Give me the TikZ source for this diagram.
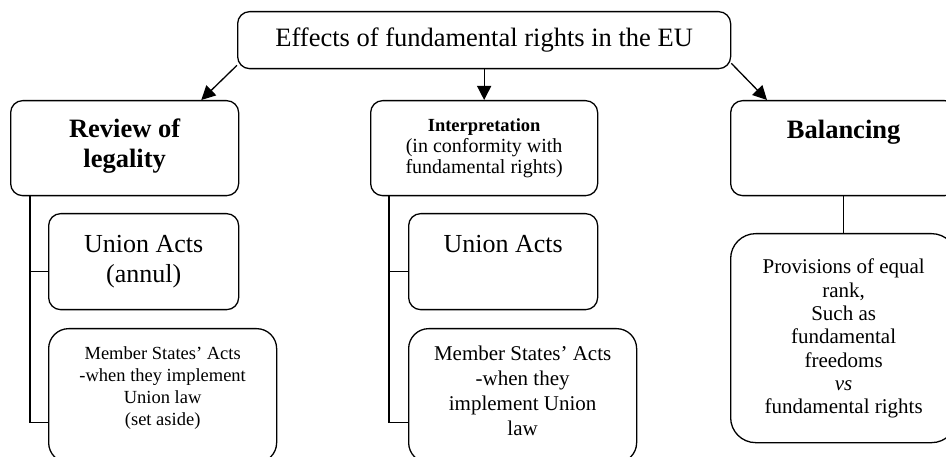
\documentclass[tikz,border=0pt]{standalone}
\usepackage{fontspec}
\setmainfont{Liberation Serif}
\usetikzlibrary{positioning}
\usetikzlibrary{arrows.meta}

\newcommand{\headfont}{\fontsize{26.5pt}{30pt}\selectfont}
\newcommand{\actfont}{\fontsize{26pt}{30pt}\selectfont}
\newcommand{\smallact}{\fontsize{18.5pt}{22pt}\selectfont}
\newcommand{\midact}{\fontsize{21pt}{25pt}\selectfont}

\tikzset{
  rbox/.style={draw, rectangle, rounded corners=12pt, line width=1.3pt, inner sep=0pt, align=center, anchor=north west},
  lowbox/.style={rbox, rounded corners=20pt},
  arr/.style={-{Triangle[length=14pt,width=14pt]}, line width=1.3pt},
  tree/.style={line width=1.3pt}
}

\begin{document}
\begin{tikzpicture}[x=1pt,y=-1pt]
            \useasboundingbox (0,0) rectangle (946,457);
            \clip (0,0) rectangle (946,457);

            \node[rbox, minimum width=493pt, text height=35pt, text depth=22pt, font=\headfont] (effects) at (237,11) {Effects of fundamental rights in the EU};

            \node[rbox, minimum width=228pt, text height=67pt, text depth=28pt, font=\headfont\bfseries] (review) at (10,100) {Review of\\legality};
            \node[rbox, minimum width=227pt, text height=73pt, text depth=22pt, font=\fontsize{20pt}{21pt}\selectfont] (interp) at (370,100) {{\fontsize{18.5pt}{21pt}\selectfont\bfseries Interpretation}\\(in conformity with\\fundamental rights)};
            \node[rbox, minimum width=226pt, text height=38pt, text depth=57pt, font=\headfont\bfseries] (balance) at (730,100) {Balancing};

            \node[rbox, minimum width=190pt, text height=69pt, text depth=27pt, font=\actfont] (unionL) at (48,213) {Union Acts\\(annul)};
            \node[lowbox, minimum width=228pt, text height=97pt, text depth=37pt, font=\smallact] (memberL) at (48,328) {Member States’ Acts\\-when they implement\\Union law\\(set aside)};

            \node[rbox, minimum width=189pt, text height=39pt, text depth=57pt, font=\actfont] (unionM) at (408,213) {Union Acts};
            \node[lowbox, minimum width=228pt, text height=107pt, text depth=27pt, font=\midact] (memberM) at (408,328) {Member States’ Acts\\-when they\\implement Union\\law};

            \node[lowbox, rounded corners=25pt, minimum width=226pt, text height=180pt, text depth=29pt, font=\fontsize{21pt}{23.3pt}\selectfont] (provis) at (730,233) {Provisions of equal\\rank,\\Such as\\fundamental\\freedoms\\\textit{vs}\\fundamental rights};

            \draw[arr] ([yshift=4pt]effects.south west) -- ([xshift=-38pt]review.north east);
            \draw[arr] (effects.south) -- (interp.north);
            \draw[arr] ([yshift=6pt]effects.south east) -- ([xshift=37pt]balance.north west);

            % branches under each heading
            \draw[tree] ([xshift=20pt]review.south west) |- ([yshift=-10pt]unionL.west);
            \draw[tree] ([xshift=20pt]review.south west) |- ([yshift=-27pt]memberL.west);
            \draw[tree] ([xshift=19pt]interp.south west) |- ([yshift=-10pt]unionM.west);
            \draw[tree] ([xshift=19pt]interp.south west) |- ([yshift=-27pt]memberM.west);
            \draw[tree] (balance.south) -- (provis.north);
        \end{tikzpicture}
\end{document}
